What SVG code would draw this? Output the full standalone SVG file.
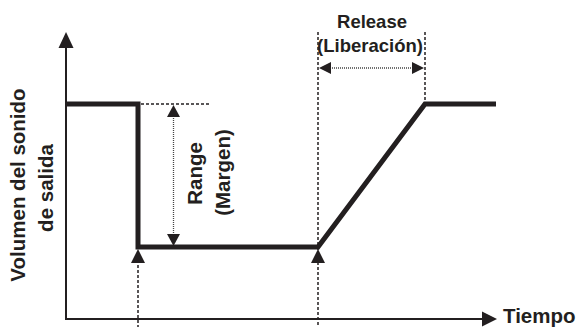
<svg xmlns="http://www.w3.org/2000/svg" width="578" height="327" viewBox="0 0 578 327">
<style>
text{font-family:"Liberation Sans",Arial,sans-serif;font-weight:bold;fill:#231f20}
.axis{stroke:#231f20;stroke-width:2;fill:none}
.sig{stroke:#231f20;stroke-width:5;fill:none;stroke-linejoin:miter}
.dash{stroke:#231f20;stroke-width:1.5;stroke-dasharray:3,2;fill:none}
.dot{stroke:#444;stroke-width:1.3;stroke-dasharray:1,1;fill:none}
.ah{fill:#231f20}
</style>
<g id="connectors">
<line class="axis" x1="66" y1="44" x2="66" y2="320"/>
<line class="axis" x1="65" y1="319" x2="486" y2="319"/>
<polygon class="ah" points="66,32 73.5,48 58.5,48"/>
<polygon class="ah" points="497,319 482,311.5 482,326.5"/>
<polyline class="sig" points="66,104 138,104 138,247 318,247 425,104 496,104"/>
<line class="dash" x1="141" y1="104" x2="209" y2="104"/>
<line class="dash" x1="138" y1="260" x2="138" y2="327"/>
<line class="dash" x1="318" y1="32" x2="318" y2="327"/>
<line class="dash" x1="425" y1="32" x2="425" y2="102"/>
<polygon class="ah" points="138,249 145,263 131,263"/>
<polygon class="ah" points="318,249 325,263 311,263"/>
<line class="dot" x1="173.5" y1="114" x2="173.5" y2="237"/>
<polygon class="ah" points="173.5,105 180,117 167,117"/>
<polygon class="ah" points="173.5,246 180,234 167,234"/>
<line class="dot" x1="328" y1="68" x2="415" y2="68"/>
<polygon class="ah" points="319,68 331,62 331,74"/>
<polygon class="ah" points="424,68 412,62 412,74"/>
</g>
<g id="label-y">
<text transform="translate(25,185) rotate(-90)" text-anchor="middle" font-size="20.5">Volumen del sonido</text>
<text transform="translate(53,188) rotate(-90)" text-anchor="middle" font-size="20.5">de salida</text>
</g>
<g id="label-x">
<text x="503" y="323" font-size="20.5">Tiempo</text>
</g>
<g id="label-range">
<text transform="translate(202,173.5) rotate(-90)" text-anchor="middle" font-size="20.5">Range</text>
<text transform="translate(230,172.5) rotate(-90)" text-anchor="middle" font-size="20.5">(Margen)</text>
</g>
<g id="label-release">
<text x="372" y="28" text-anchor="middle" font-size="18.5">Release</text>
<text x="370" y="52" text-anchor="middle" font-size="18.5">(Liberación)</text>
</g>
</svg>
